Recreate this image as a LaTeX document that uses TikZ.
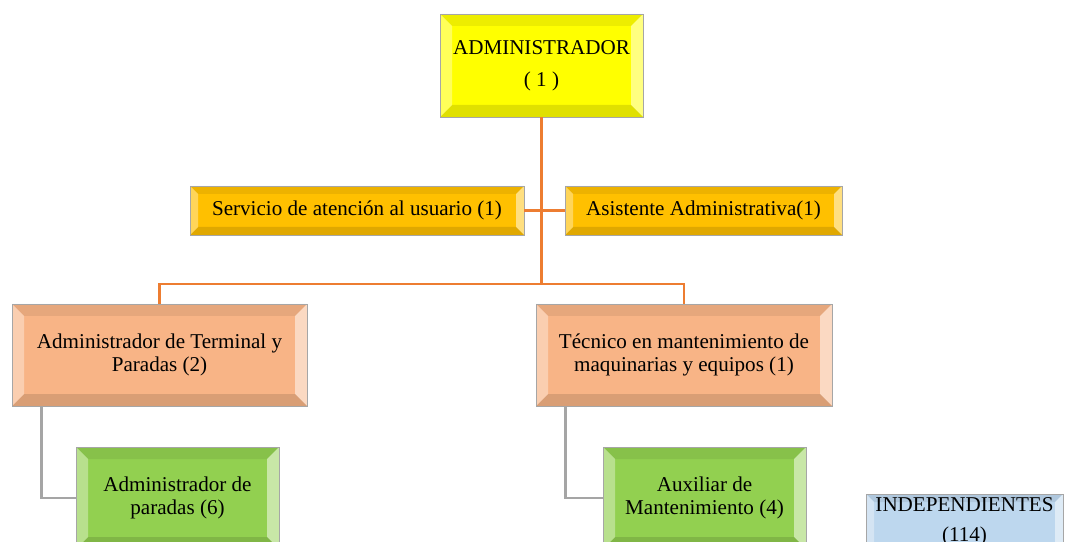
\documentclass[tikz,border=0pt]{standalone}
\usepackage{fontspec}
\setmainfont{Liberation Serif}
\usepackage{tikz}
\usetikzlibrary{positioning, calc}
\definecolor{oyellow}{HTML}{FFFF00}
\definecolor{ogold}{HTML}{FFC000}
\definecolor{opeach}{HTML}{F8B486}
\definecolor{ogreen}{HTML}{92D050}
\definecolor{oblue}{HTML}{BDD7EE}
\definecolor{oline}{HTML}{ED7D31}
\definecolor{gline}{HTML}{A5A5A5}
\newcommand{\bevelfaces}[1]{%
  \coordinate (bv1) at (path picture bounding box.north west);
  \coordinate (bv2) at (path picture bounding box.north east);
  \coordinate (bv3) at (path picture bounding box.south east);
  \coordinate (bv4) at (path picture bounding box.south west);
  \coordinate (iv1) at ($(bv1)+(#1,-#1)$);
  \coordinate (iv2) at ($(bv2)+(-#1,-#1)$);
  \coordinate (iv3) at ($(bv3)+(-#1,#1)$);
  \coordinate (iv4) at ($(bv4)+(#1,#1)$);
  \fill[black, opacity=.07] (bv1) -- (bv2) -- (iv2) -- (iv1) -- cycle;
  \fill[white, opacity=.5] (bv2) -- (bv3) -- (iv3) -- (iv2) -- cycle;
  \fill[black, opacity=.12] (bv3) -- (bv4) -- (iv4) -- (iv3) -- cycle;
  \fill[white, opacity=.35] (bv4) -- (bv1) -- (iv1) -- (iv4) -- cycle;
}
\tikzset{
  unit/.style={rectangle, draw=black!35, line width=0.5pt, text=black, align=center,
               inner sep=2pt, font=\fontsize{15}{16.5}\selectfont},
  bevel/.style={path picture={\bevelfaces{#1}}},
  bevel/.default=0.3cm,
  chief/.style={unit, bevel, fill=oyellow, minimum width=5.075cm, minimum height=2.575cm},
  staff/.style={unit, bevel=0.2cm, fill=ogold, minimum height=1.225cm},
  dept/.style={unit, bevel, fill=opeach, minimum height=2.55cm},
  field/.style={unit, bevel, fill=ogreen, minimum width=5.075cm, minimum height=2.55cm},
  indep/.style={unit, bevel=0.2cm, fill=oblue, minimum width=4.925cm, minimum height=1.4cm},
  orgline/.style={draw=oline, line width=2pt},
  subline/.style={draw=gline, line width=2pt}
}
\begin{document}
\begin{tikzpicture}
  \useasboundingbox (0,0) rectangle (26.675,-13.55);
  \clip (0,0) rectangle (26.675,-13.55);
  \node[chief] (admin) at (13.5375,-1.6375) {ADMINISTRADOR\\[6pt]( 1 )};
  \node[staff, minimum width=8.35cm] (servicio) at (8.925,-5.2625) {Servicio de atención al usuario (1)};
  \node[staff, minimum width=6.925cm] (asistente) at (17.5875,-5.2625) {Asistente Administrativa(1)};
  \node[dept, minimum width=7.375cm] (terminal) at (3.9875,-8.875) {Administrador de Terminal y\\Paradas (2)};
  \node[dept, minimum width=7.4cm] (tecnico) at (17.1,-8.875) {Técnico en mantenimiento de\\maquinarias y equipos (1)};
  \node[field] (paradas) at (4.4375,-12.45) {Administrador de\\paradas (6)};
  \node[field] (auxiliar) at (17.6125,-12.45) {Auxiliar de\\Mantenimiento (4)};
  \node[indep] (independientes) at (24.1125,-13.05) {INDEPENDIENTES\\[5pt](114)};
  \coordinate (bus) at (13.5375,-7.1);
  \draw[orgline] (admin.south) -- (bus) -| (terminal.north);
  \draw[orgline] (bus) -| (tecnico.north);
  \draw[orgline] (servicio.east) -- (asistente.west);
  \draw[subline] ($(terminal.south west)+(0.75,0)$) |- (paradas.west);
  \draw[subline] ($(tecnico.south west)+(0.75,0)$) |- (auxiliar.west);
\end{tikzpicture}
\end{document}
